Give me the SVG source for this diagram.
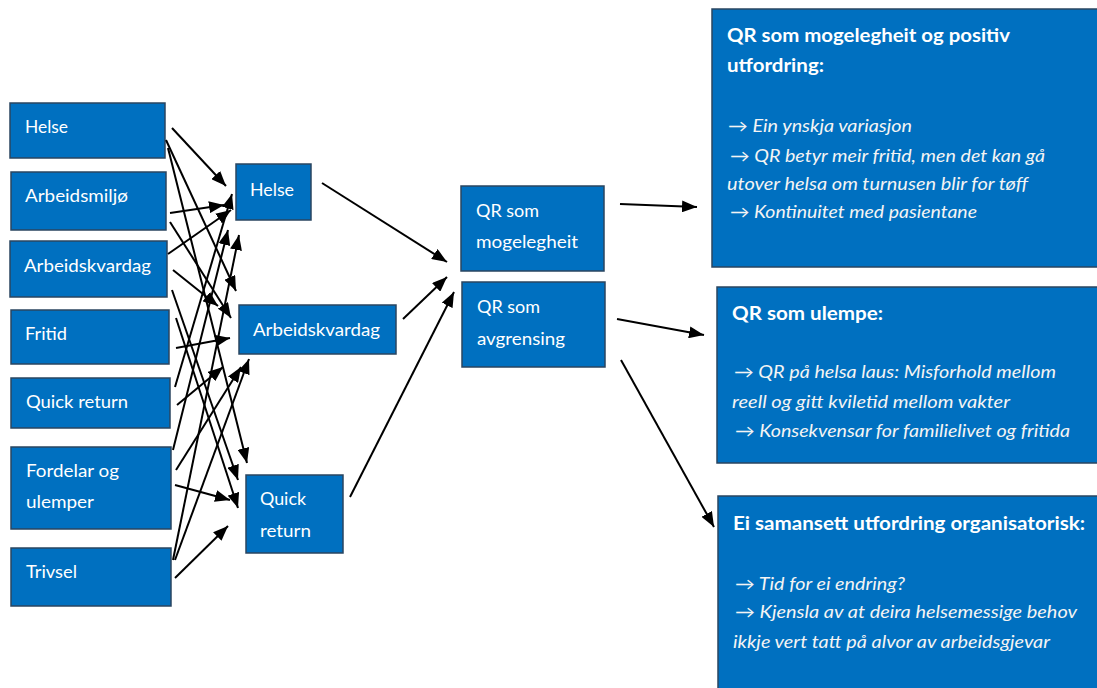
<svg xmlns="http://www.w3.org/2000/svg" width="1097" height="688" viewBox="0 0 1097 688">
<defs>
<marker id="ah" markerUnits="userSpaceOnUse" markerWidth="16" markerHeight="12" refX="15" refY="6" orient="auto">
<path d="M0,0 L15,6 L0,12 z" fill="#000"/>
</marker>
<style>
.box{fill:#0070C0;stroke:#2a4560;stroke-width:1.5}
.t{font-family:Lato,"Liberation Sans",sans-serif;font-size:18px;fill:#fff}
.h{font-family:Lato,"Liberation Sans",sans-serif;font-size:19px;font-weight:bold;fill:#fff}
.i{font-family:Lato,"Liberation Sans",sans-serif;font-size:17px;font-style:italic;fill:#f4f4f4}
.c line{stroke:#000;stroke-width:2;marker-end:url(#ah)}
</style>
</defs>
<rect width="1097" height="688" fill="#fff"/>

<g id="l-helse"><rect class="box" x="10" y="103" width="155" height="55"/><text class="t" x="25" y="133" textLength="43" lengthAdjust="spacingAndGlyphs">Helse</text></g>
<g id="l-arbeidsmiljo"><rect class="box" x="11" y="172" width="155" height="58"/><text class="t" x="25" y="202" textLength="103" lengthAdjust="spacingAndGlyphs">Arbeidsmiljø</text></g>
<g id="l-arbeidskvardag"><rect class="box" x="10" y="241" width="157" height="56"/><text class="t" x="24" y="272" textLength="127" lengthAdjust="spacingAndGlyphs">Arbeidskvardag</text></g>
<g id="l-fritid"><rect class="box" x="11" y="310" width="158" height="54"/><text class="t" x="25" y="340" textLength="42" lengthAdjust="spacingAndGlyphs">Fritid</text></g>
<g id="l-quick"><rect class="box" x="11" y="378" width="159" height="50"/><text class="t" x="26" y="408" textLength="102" lengthAdjust="spacingAndGlyphs">Quick return</text></g>
<g id="l-fordelar"><rect class="box" x="11" y="447" width="160" height="82"/><text class="t" x="26" y="477" textLength="93" lengthAdjust="spacingAndGlyphs">Fordelar og</text><text class="t" x="26" y="508" textLength="68" lengthAdjust="spacingAndGlyphs">ulemper</text></g>
<g id="l-trivsel"><rect class="box" x="11" y="548" width="160" height="58"/><text class="t" x="26" y="578" textLength="51" lengthAdjust="spacingAndGlyphs">Trivsel</text></g>

<g id="m-helse"><rect class="box" x="236" y="164" width="75" height="56"/><text class="t" x="250" y="196" textLength="44" lengthAdjust="spacingAndGlyphs">Helse</text></g>
<g id="m-arbeidskvardag"><rect class="box" x="239" y="305" width="157" height="49"/><text class="t" x="253" y="336" textLength="127" lengthAdjust="spacingAndGlyphs">Arbeidskvardag</text></g>
<g id="m-quick"><rect class="box" x="246" y="475" width="97" height="78"/><text class="t" x="260" y="505" textLength="46" lengthAdjust="spacingAndGlyphs">Quick</text><text class="t" x="260" y="537" textLength="51" lengthAdjust="spacingAndGlyphs">return</text></g>

<g id="qr-mogelegheit"><rect class="box" x="461" y="186" width="143" height="85"/><text class="t" x="476" y="217" textLength="63" lengthAdjust="spacingAndGlyphs">QR som</text><text class="t" x="476" y="248" textLength="102" lengthAdjust="spacingAndGlyphs">mogelegheit</text></g>
<g id="qr-avgrensing"><rect class="box" x="462" y="282" width="143" height="85"/><text class="t" x="477" y="313" textLength="63" lengthAdjust="spacingAndGlyphs">QR som</text><text class="t" x="477" y="345" textLength="88" lengthAdjust="spacingAndGlyphs">avgrensing</text></g>

<g id="r-positiv"><rect class="box" x="712" y="9" width="395" height="258"/>
<text class="h" x="727" y="42" textLength="283" lengthAdjust="spacingAndGlyphs">QR som mogelegheit og positiv</text>
<text class="h" x="727" y="72" textLength="97" lengthAdjust="spacingAndGlyphs">utfordring:</text>
<text class="i" x="728" y="132" textLength="184" lengthAdjust="spacingAndGlyphs">→ Ein ynskja variasjon</text>
<text class="i" x="730" y="162" textLength="315" lengthAdjust="spacingAndGlyphs">→ QR betyr meir fritid, men det kan gå</text>
<text class="i" x="727" y="190" textLength="301" lengthAdjust="spacingAndGlyphs">utover helsa om turnusen blir for tøff</text>
<text class="i" x="730" y="218" textLength="247" lengthAdjust="spacingAndGlyphs">→ Kontinuitet med pasientane</text>
</g>
<g id="r-ulempe"><rect class="box" x="717" y="287" width="390" height="176"/>
<text class="h" x="732" y="320" textLength="151" lengthAdjust="spacingAndGlyphs">QR som ulempe:</text>
<text class="i" x="734" y="378" textLength="322" lengthAdjust="spacingAndGlyphs">→ QR på helsa laus: Misforhold mellom</text>
<text class="i" x="732" y="408" textLength="278" lengthAdjust="spacingAndGlyphs">reell og gitt kviletid mellom vakter</text>
<text class="i" x="735" y="437" textLength="335" lengthAdjust="spacingAndGlyphs">→ Konsekvensar for familielivet og fritida</text>
</g>
<g id="r-organisatorisk"><rect class="box" x="718" y="496" width="389" height="200"/>
<text class="h" x="733" y="530" textLength="352" lengthAdjust="spacingAndGlyphs">Ei samansett utfordring organisatorisk:</text>
<text class="i" x="735" y="590" textLength="170" lengthAdjust="spacingAndGlyphs">→ Tid for ei endring?</text>
<text class="i" x="735" y="618" textLength="342" lengthAdjust="spacingAndGlyphs">→ Kjensla av at deira helsemessige behov</text>
<text class="i" x="733" y="648" textLength="317" lengthAdjust="spacingAndGlyphs">ikkje vert tatt på alvor av arbeidsgjevar</text>
</g>

<g id="connectors" class="c">
<line x1="172" y1="128" x2="226" y2="186"/>
<line x1="170" y1="213" x2="224" y2="205"/>
<line x1="168" y1="254" x2="231" y2="210"/>
<line x1="175" y1="387" x2="232" y2="194"/>
<line x1="173" y1="450" x2="228" y2="230"/>
<line x1="173" y1="560" x2="239" y2="235"/>
<line x1="166" y1="140" x2="236" y2="291"/>
<line x1="170" y1="222" x2="231" y2="318"/>
<line x1="173" y1="270" x2="218" y2="306"/>
<line x1="176" y1="348" x2="230" y2="338"/>
<line x1="177" y1="405" x2="223" y2="367"/>
<line x1="176" y1="470" x2="241" y2="367"/>
<line x1="175" y1="560" x2="249" y2="359"/>
<line x1="168" y1="148" x2="247" y2="463"/>
<line x1="172" y1="290" x2="238" y2="480"/>
<line x1="176" y1="318" x2="238" y2="508"/>
<line x1="175" y1="485" x2="230" y2="500"/>
<line x1="175" y1="578" x2="228" y2="526"/>
<line x1="322" y1="183" x2="447" y2="262"/>
<line x1="403" y1="319" x2="447" y2="277"/>
<line x1="350" y1="497" x2="454" y2="292"/>
<line x1="620" y1="204" x2="697" y2="207"/>
<line x1="617" y1="319" x2="704" y2="335"/>
<line x1="621" y1="360" x2="714" y2="527"/>
</g>
</svg>
